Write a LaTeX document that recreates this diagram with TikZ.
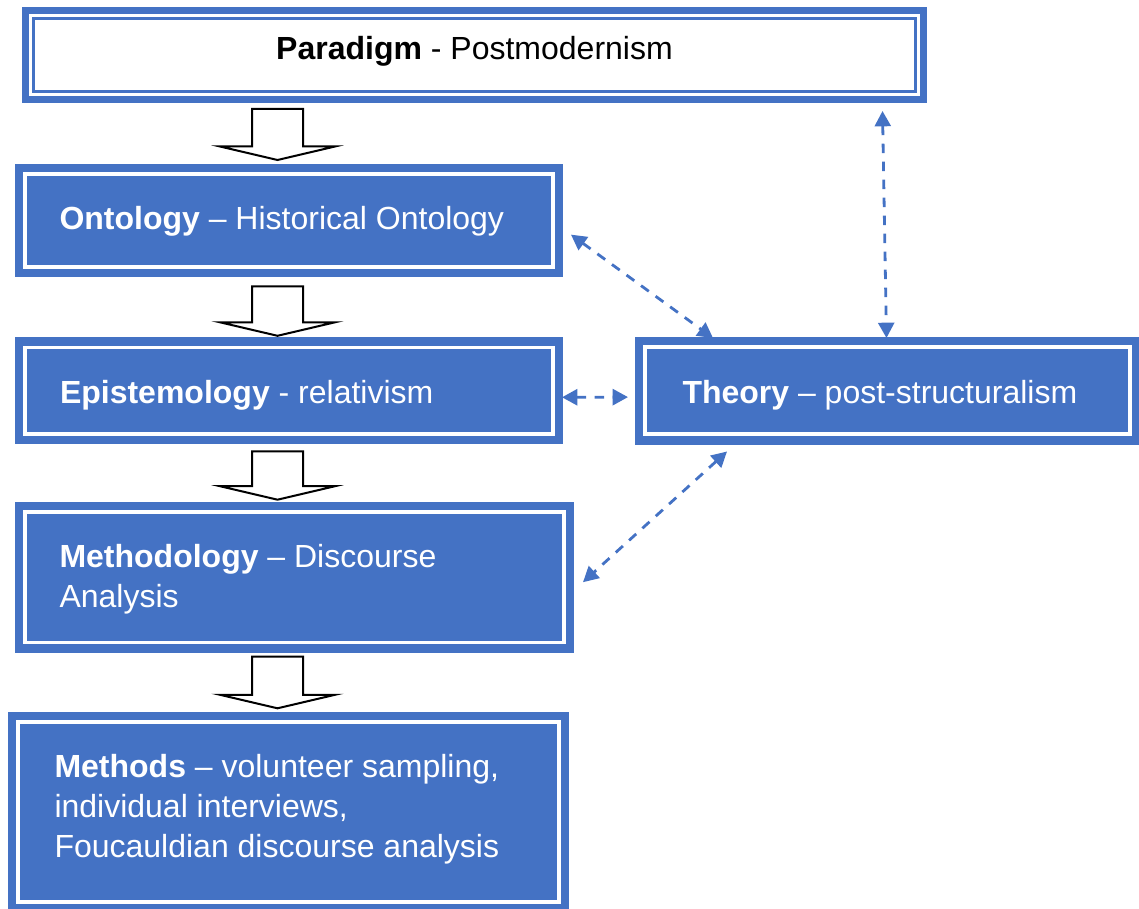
\documentclass[tikz,border=0pt]{standalone}
\usepackage{fontspec}
\setmainfont{Liberation Sans}
\usetikzlibrary{calc,arrows.meta}
\definecolor{boxblue}{HTML}{4472C4}
\def\pxu{0.75pt}
\tikzset{
  % filled blue box with a thin white frame inside the edge
  bluebox/.style={rectangle, fill=boxblue, inner sep=0pt, outer sep=0pt,
    path picture={\draw[white, line width=3.8*\pxu]
      ([shift={(10.3,10.3)}]path picture bounding box.north west) rectangle
      ([shift={(-10.3,-10.3)}]path picture bounding box.south east);}},
  % white box with a thick-thin blue frame
  whitebox/.style={rectangle, fill=boxblue, inner sep=0pt, outer sep=0pt,
    path picture={\fill[white]
      ([shift={(7.4,7.4)}]path picture bounding box.north west) rectangle
      ([shift={(-7.4,-7.4)}]path picture bounding box.south east);
      \draw[boxblue, line width=2.6*\pxu]
      ([shift={(11.4,11.4)}]path picture bounding box.north west) rectangle
      ([shift={(-11.4,-11.4)}]path picture bounding box.south east);}},
  label/.style={inner sep=0pt, outer sep=0pt, font=\fontsize{24}{30}\selectfont},
  lighttext/.style={label, text=white},
  darktext/.style={label, text=black},
  blockarrow/.style={draw=black, line width=1.5pt, fill=white, line join=miter},
  linkarrow/.style={draw=boxblue, line width=2.8*\pxu, dash pattern=on 7.2pt off 6.3pt,
    {Triangle[length=11.5pt,width=12pt]}-{Triangle[length=11.5pt,width=12pt]}}
}
\newcommand\stacklines[1]{\vtop{\baselineskip=30pt #1}}
\begin{document}
\begin{tikzpicture}[x=0.75pt, y=-0.75pt]
\useasboundingbox (0,0) rectangle (1139,909);

% boxes
\node[whitebox, minimum width=905*\pxu, minimum height=96*\pxu]  (para)  at (474.5,55) {};
\node[bluebox, minimum width=548*\pxu, minimum height=113.3*\pxu] (ont)  at (289,220.65) {};
\node[bluebox, minimum width=548.5*\pxu, minimum height=107*\pxu] (epi)  at (288.75,390.8) {};
\node[bluebox, minimum width=505*\pxu, minimum height=107.8*\pxu] (theo) at (887.5,390.6) {};
\node[bluebox, minimum width=559.5*\pxu, minimum height=151*\pxu] (meth) at (294.25,577.2) {};
\node[bluebox, minimum width=561*\pxu, minimum height=200*\pxu]   (meths) at (288.5,812) {};

% labels
\node[darktext, anchor=base] (paratxt) at (474.5,60) {\textbf{Paradigm} - Postmodernism};
\node[lighttext, anchor=base west] (onttxt) at (59.5,230) {\textbf{Ontology} – Historical Ontology};
\node[lighttext, anchor=base west] (epitxt) at (60,403) {\textbf{Epistemology} - relativism};
\node[lighttext, anchor=base west] (theotxt) at (682.5,403) {\textbf{Theory} – post-structuralism};
\node[lighttext, anchor=base west] (methtxt) at (59.5,567)
  {\stacklines{\hbox{\textbf{Methodology} – Discourse}\hbox{Analysis}}};
\node[lighttext, anchor=base west] (methstxt) at (54.5,777)
  {\stacklines{\hbox{\textbf{Methods} – volunteer sampling,}\hbox{individual interviews,}\hbox{Foucauldian discourse analysis}}};

% hollow block arrows down the left column
\coordinate (ax) at (277.5,0);
\newcommand\blockdown[4]{%
  \draw[blockarrow] let \p1=($(#1.south -| ax)+(0,#3)$), \p2=($(#2.north -| ax)+(0,-#4)$) in
    (\x1-19.125pt,\y1) -- (\x1+19.125pt,\y1) -- (\x1+19.125pt,\y2+10.125pt)
    -- (\x1+43.125pt,\y2+10.125pt) -- (\x2,\y2) -- (\x1-43.125pt,\y2+10.125pt)
    -- (\x1-19.125pt,\y2+10.125pt) -- cycle;}
\blockdown{para}{ont}{6}{4}
\blockdown{ont}{epi}{9}{1.5}
\blockdown{epi}{meth}{7}{2}
\blockdown{meth}{meths}{4}{3.7}

% dashed two-way links to the theory box
\draw[linkarrow] ($(ont.east)+(8,14)$) -- ($(theo.north west)+(78,1.3)$);
\draw[linkarrow] ($(epi.east)+(-1,6.5)$) -- ($(theo.west)+(-7,6.5)$);
\draw[linkarrow] ($(theo.south west)+(92,7)$) -- ($(meth.east)+(9,5)$);
\draw[linkarrow] ($(para.south -| theo.north)+(-5,8)$) -- ($(theo.north)+(-1,1.3)$);
\end{tikzpicture}
\end{document}
